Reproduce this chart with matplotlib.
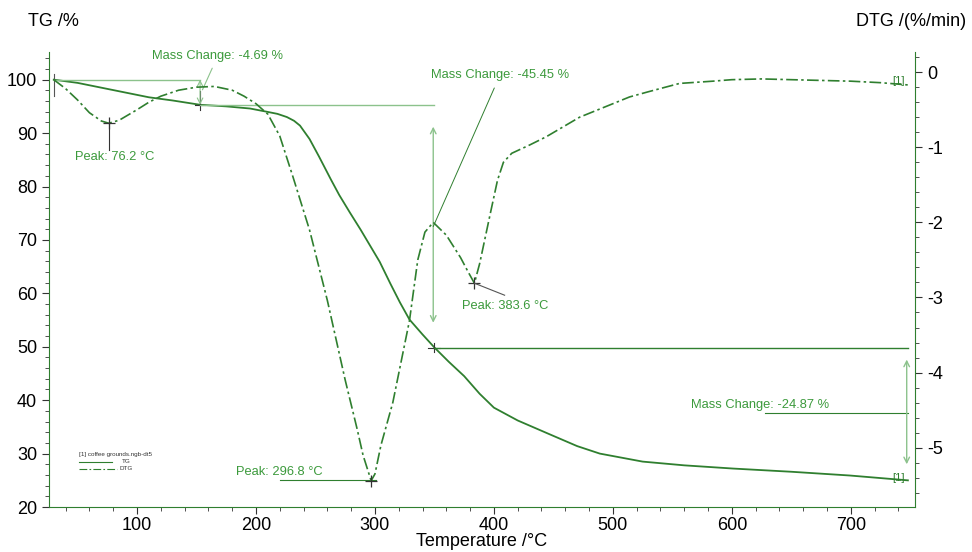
import numpy as np
import matplotlib
matplotlib.use("Agg")
import matplotlib.pyplot as plt
from matplotlib.ticker import MultipleLocator

plt.rcParams["font.family"] = ["Liberation Sans", "DejaVu Sans"]
plt.rcParams["axes.unicode_minus"] = False

# ---- data ----
tg_T = [30, 50, 70, 90, 110, 130, 153, 175, 195, 209, 218, 226, 232, 237, 245, 253, 263, 270,
        279, 288, 296, 304, 313, 321, 329, 340, 350, 362, 375, 388, 400, 420, 447, 470, 489,
        525, 560, 601, 650, 699, 748]
tg_v = [100.0, 99.4, 98.5, 97.6, 96.7, 96.1, 95.3, 95.0, 94.6, 94.0, 93.6, 93.0, 92.3, 91.4,
        88.9, 85.6, 81.3, 78.4, 75.1, 71.9, 68.9, 65.9, 61.8, 58.3, 55.1, 52.3, 49.86, 47.2,
        44.5, 41.2, 38.6, 36.2, 33.6, 31.4, 30.0, 28.5, 27.8, 27.2, 26.6, 25.9, 24.99]

dtg_T = [30, 40, 50, 60, 70, 76.2, 85, 100, 110, 120, 135, 150, 165, 180, 190, 200, 210, 220,
         231, 245, 260, 275, 285, 290, 296.8, 300, 305, 315, 329, 336, 342, 349, 360, 372,
         378, 383.6, 388, 397, 403, 408, 415, 430, 444, 472, 500, 514, 530, 556, 584, 600,
         625, 650, 675, 700, 725, 748]
dtg_v = [-0.10, -0.22, -0.37, -0.54, -0.65, -0.68, -0.64, -0.50, -0.40, -0.32, -0.24, -0.20,
         -0.19, -0.24, -0.32, -0.42, -0.56, -0.85, -1.39, -2.10, -3.04, -4.10, -4.75, -5.10,
         -5.44, -5.35, -4.97, -4.40, -3.31, -2.50, -2.13, -2.00, -2.17, -2.47, -2.65, -2.81,
         -2.55, -1.88, -1.44, -1.20, -1.08, -0.97, -0.86, -0.60, -0.42, -0.33, -0.26, -0.15,
         -0.12, -0.10, -0.09, -0.10, -0.11, -0.12, -0.14, -0.17]

x_ticks = [100, 200, 300, 400, 500, 600, 700]
tg_ticks = [20, 30, 40, 50, 60, 70, 80, 90, 100]
dtg_ticks = [0, -1, -2, -3, -4, -5]

mass_changes = ["-4.69", "-45.45", "-24.87"]
mc_T = [153, 350, 748]
peaks = [76.2, 296.8, 383.6]

# ---- style ----
green = "#2f7f2f"
tgreen = "#3c9a3c"
light = "#8cc28c"
DASHDOT = (0, (7, 2, 1.5, 2))

fig = plt.figure(figsize=(9.72, 5.52), dpi=100)
ax = fig.add_axes([0.0504, 0.0815, 0.8910, 0.8245])
ax2 = ax.twinx()

ax.plot(tg_T, tg_v, color=green, lw=1.3)
ax2.plot(dtg_T, dtg_v, color=green, lw=1.2, linestyle=DASHDOT)

ax.set_xlim(26, 754)
ax.set_ylim(20, 105.2)
ax2.set_ylim(-5.79, 0.27)

ax.set_xticks(x_ticks)
ax.xaxis.set_minor_locator(MultipleLocator(20))
ax.set_yticks(tg_ticks)
ax.yaxis.set_minor_locator(MultipleLocator(2))
ax2.set_yticks(dtg_ticks)
ax2.yaxis.set_minor_locator(MultipleLocator(0.2))

for a in (ax, ax2):
    for s in a.spines.values():
        s.set_color(green)
    a.spines["top"].set_visible(False)
ax.spines["right"].set_visible(False)
ax2.spines["left"].set_visible(False)
ax2.spines["bottom"].set_visible(False)

ax.tick_params(axis="both", which="major", direction="out", length=5, color="#333333",
               labelsize=13, labelcolor="black")
ax.tick_params(axis="x", which="major", pad=2)
ax.tick_params(axis="both", which="minor", direction="out", length=3, color="#333333")
ax2.tick_params(axis="y", which="major", direction="out", length=5, color="#333333",
                labelsize=13, labelcolor="black")
ax2.tick_params(axis="y", which="minor", direction="out", length=3, color="#333333")

fig.text(482 / 972, 1 - 542 / 552, "Temperature /°C", fontsize=13, va="center", ha="center")
fig.text(28 / 972, 1 - 22 / 552, "TG /%", fontsize=13, va="center", ha="left")
fig.text(966 / 972, 1 - 22 / 552, "DTG /(%/min)", fontsize=13, va="center", ha="right")

# ---- annotations ----
def tgv(T):
    return float(np.interp(T, tg_T, tg_v))

def dtgv(T):
    return float(np.interp(T, dtg_T, dtg_v))

FS = 9.3
t0, t1, t2, t3 = 30, mc_T[0], mc_T[1], mc_T[2]
v0, v1, v2, v3 = tgv(t0), tgv(t1), tgv(t2), tgv(t3)

# step 1
ax.plot([t0, t1], [v0, v0], color=light, lw=1)
ax.annotate("", xy=(t1, v1), xytext=(t1, v0),
            arrowprops=dict(arrowstyle="<->", color=light, lw=0.8, shrinkA=0, shrinkB=0))
ax.plot([t1, t1], [v1 - 1, v1 + 2.5], color="#333333", lw=0.8)
ax.plot([t1 - 4, t1 + 4], [v1, v1], color="#333333", lw=0.8)
ax.plot([t0, t0], [v0 - 3, v0 + 1], color="#555555", lw=0.8)
ax.annotate(f"Mass Change: {mass_changes[0]} %", xy=(t1 + 2, v1 + 2.8), xytext=(168, 104.5),
            color=tgreen, fontsize=FS, ha="center", va="center",
            arrowprops=dict(arrowstyle="-", color=light, lw=0.8, shrinkA=3, shrinkB=0))

# step 2
ax.plot([t1, t2], [v1, v1], color=light, lw=1)
ax.annotate("", xy=(t2 - 1, 54.5), xytext=(t2 - 1, 91.2),
            arrowprops=dict(arrowstyle="<->", color=light, lw=1, shrinkA=0, shrinkB=0))
ax.annotate(f"Mass Change: {mass_changes[1]} %", xy=(t2 - 1, 72.5), xytext=(405, 100.8),
            color=tgreen, fontsize=FS, ha="center", va="center",
            arrowprops=dict(arrowstyle="-", color=green, lw=0.7, shrinkA=3, shrinkB=0))
ax.plot([t2, t2], [v2 - 0.8, v2 + 0.8], color="#333333", lw=0.8)
ax.plot([t2 - 5, t2 + 5], [v2, v2], color="#333333", lw=0.8)

# step 3
ax.plot([t2, t3], [v2, v2], color=green, lw=1)
ax.annotate("", xy=(t3 - 1, 28.0), xytext=(t3 - 1, 47.6),
            arrowprops=dict(arrowstyle="<->", color=light, lw=1, shrinkA=0, shrinkB=0))
ax.text(624, 39.1, f"Mass Change: {mass_changes[2]} %", color=tgreen, fontsize=FS,
        ha="center", va="center")
ax.plot([628, t3], [37.6, 37.6], color=green, lw=0.8)
ax.text(t3 - 3, v3 + 0.5, "[1]", color=green, fontsize=8, ha="right", va="center")

# peaks
p1, p2, p3 = peaks
ax2.plot([p1], [dtgv(p1)], marker="+", ms=9, color="#333333", mew=0.9)
ax2.plot([p1, p1], [dtgv(p1), dtgv(p1) - 0.35], color="#333333", lw=0.8)
ax2.text(81.5, -1.13, f"Peak: {p1} °C", color=tgreen, fontsize=FS,
         ha="center", va="center")

ax2.plot([220, p2 + 4], [-5.43, -5.43], color=green, lw=0.8)
ax2.plot([p2], [dtgv(p2)], marker="+", ms=9, color="#333333", mew=0.9)
ax2.text(220, -5.33, f"Peak: {p2} °C", color=tgreen, fontsize=FS,
         ha="center", va="center")

ax2.plot([p3], [dtgv(p3)], marker="+", ms=9, color="#333333", mew=0.9)
ax2.plot([p3, 409], [dtgv(p3), -2.97], color="#555555", lw=0.8)
ax2.text(373, -3.11, f"Peak: {p3} °C", color=tgreen, fontsize=FS,
         ha="left", va="center")
ax2.text(745, -0.12, "[1]", color=green, fontsize=8, ha="right", va="center")

# legend-like block
ax.text(51, 29.8, "[1] coffee grounds.ngb-dt5", fontsize=4.5, color="#333333", va="center")
ax.plot([51, 79], [28.4, 28.4], color=green, lw=0.8)
ax.text(87, 28.5, "TG", fontsize=4.5, color="#333333", va="center")
ax.plot([51, 83], [27.1, 27.1], color=green, lw=0.8, linestyle=DASHDOT)
ax.text(85, 27.2, "DTG", fontsize=4.5, color="#333333", va="center")

fig.savefig("out.png", dpi=100)
